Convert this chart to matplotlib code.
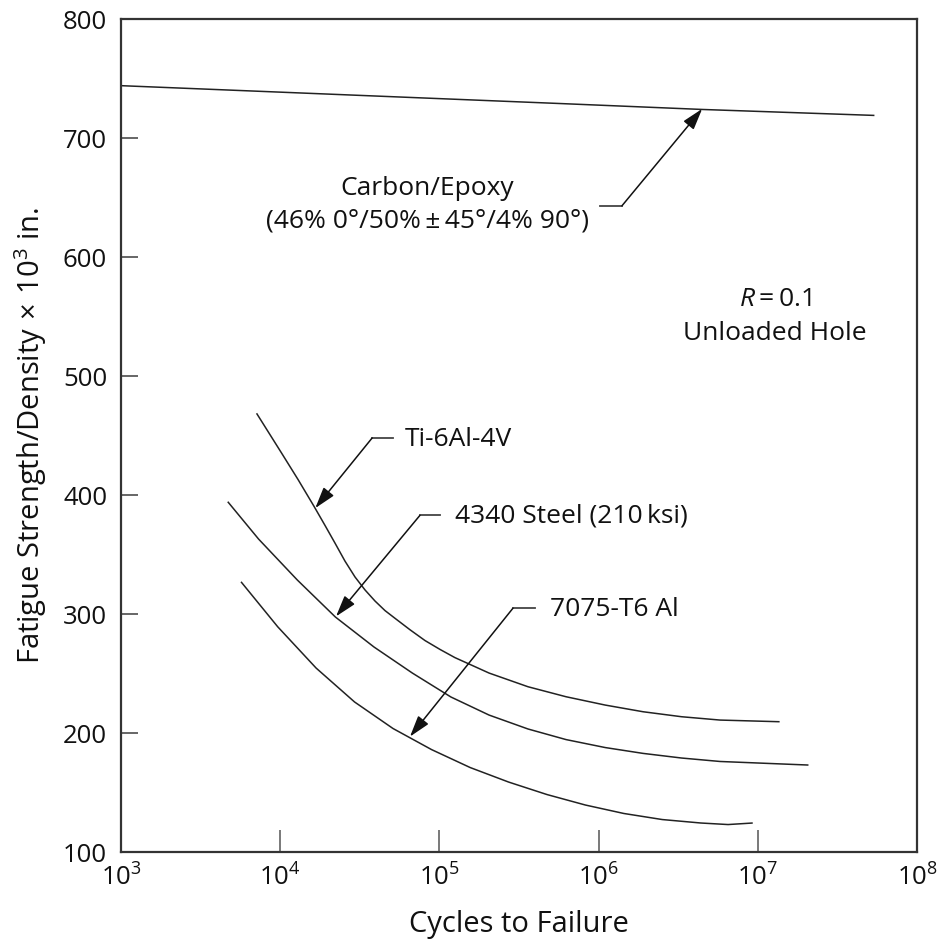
import matplotlib
matplotlib.use("Agg")
import matplotlib.pyplot as plt
from matplotlib.ticker import FixedLocator, NullLocator, FixedFormatter

plt.rcParams['font.family'] = ['Open Sans', 'DejaVu Sans']
plt.rcParams['font.weight'] = 500
plt.rcParams['mathtext.fontset'] = 'custom'
plt.rcParams['mathtext.rm'] = 'Open Sans:medium'
plt.rcParams['mathtext.it'] = 'Open Sans:italic:medium'

# ---- data ----
carbon_n = [1e3, 5.7e5, 4.5e6, 5.4e7]
carbon_s = [744, 729, 724, 719]

ti_n = [7100, 10190, 12940, 16300, 19100, 22100, 25500, 29500, 34100, 39400, 45500,
        52600, 65300, 81200, 101000, 125000, 205000, 360000, 624000, 1.10e6, 1.90e6,
        3.32e6, 5.79e6, 1.37e7]
ti_s = [468.7, 435.3, 413, 390.5, 374.5, 359.5, 344.5, 331.1, 320.2, 310.9, 302.9,
        296.4, 286.8, 277.7, 270.2, 263.4, 250.4, 238.9, 230.5, 223.5, 217.9,
        213.7, 210.9, 209.5]

steel_n = [4680, 7310, 12800, 22200, 38800, 67600, 118000, 205000, 360000,
           624000, 1.10e6, 1.90e6, 3.32e6, 5.79e6, 2.08e7]
steel_s = [394.4, 363, 328.6, 297.5, 272.3, 250.4, 230.3, 215.1, 203.4,
           194.5, 187.8, 182.9, 179, 176.1, 173.1]

al_n = [5670, 9640, 16800, 29300, 51100, 89200, 156000, 272000, 474000,
        826000, 1.44e6, 2.51e6, 4.38e6, 6.5e6, 9.29e6]
al_s = [327.1, 289.3, 254.6, 226.1, 203.8, 186.1, 171, 158.8, 148.3,
        139.5, 132.4, 127.3, 124.4, 123.1, 124.4]

x_ticks = [1e3, 1e4, 1e5, 1e6, 1e7, 1e8]
x_labels = ['$10^{3}$', '$10^{4}$', '$10^{5}$', '$10^{6}$', '$10^{7}$', '$10^{8}$']
y_ticks = [100, 200, 300, 400, 500, 600, 700, 800]

fig = plt.figure(figsize=(9.42, 9.42), dpi=100)
ax = fig.add_axes([0.1285, 0.0955, 0.845, 0.8843])

lc = '#222222'
for n, s in [(carbon_n, carbon_s), (ti_n, ti_s), (steel_n, steel_s), (al_n, al_s)]:
    ax.plot(n, s, color=lc, lw=1.1, solid_capstyle='butt', solid_joinstyle='round')

ax.set_xscale('log')
ax.set_xlim(1e3, 1e8)
ax.set_ylim(100, 800)
ax.xaxis.set_major_locator(FixedLocator(x_ticks))
ax.xaxis.set_major_formatter(FixedFormatter(x_labels))
ax.xaxis.set_minor_locator(NullLocator())
ax.yaxis.set_major_locator(FixedLocator(y_ticks))
ax.tick_params(axis='x', direction='in', length=16, width=1.1, color='#555555',
               labelsize=18.5, pad=9, top=False, labelcolor='#111111')
ax.tick_params(axis='y', direction='in', length=12, width=1.4, color='#666666',
               labelsize=18.5, pad=10, right=False, labelcolor='#111111')
for sp in ax.spines.values():
    sp.set_linewidth(1.6)
    sp.set_color('#333333')

ax.set_xlabel('Cycles to Failure', fontsize=21, labelpad=13, color='#111111')
ax.set_ylabel('Fatigue Strength/Density$\\,\\times\\,10^{3}$ in.', fontsize=21,
              labelpad=10, color='#111111')

fs = 19
arrow_kw = dict(arrowstyle='-|>,head_length=1.3,head_width=0.4', color='#111111', lw=1.1,
                shrinkA=0, shrinkB=0)

def callout(label, text_xy, stub_end, elbow, tip, ha='left'):
    ax.plot([stub_end[0], elbow[0]], [stub_end[1], elbow[1]], color='#444444', lw=1.3)
    ax.annotate('', xy=tip, xytext=elbow, arrowprops=arrow_kw)
    ax.text(text_xy[0], text_xy[1], label, fontsize=fs, ha=ha, va='center', color='#111111')

callout('Ti-6Al-4V', (60800, 447), (51200, 448), (37800, 448), (16600, 389))
callout('4340 Steel (210\u2009ksi)', (125000, 382), (101000, 383), (75500, 383), (22400, 298))
callout('7075-T6 Al', (495000, 304), (398000, 305), (290000, 305), (65300, 197))

# carbon/epoxy callout
ax.plot([1.02e6, 1.40e6], [643, 643], color='#444444', lw=1.3)
ax.annotate('', xy=(4.47e6, 724.5), xytext=(1.40e6, 643), arrowprops=arrow_kw)
ax.text(83600, 658, 'Carbon/Epoxy', fontsize=fs, ha='center', va='center', color='#111111')
ax.text(83600, 630, '(46% 0\u00b0/50%\u2009\u00b1\u200945\u00b0/4% 90\u00b0)', fontsize=fs,
        ha='center', va='center', color='#111111')

ax.text(1.28e7, 564, '$R = 0.1$', fontsize=fs, ha='center', va='center', color='#111111')
ax.text(1.28e7, 536, 'Unloaded Hole', fontsize=fs, ha='center', va='center', color='#111111')

fig.savefig('out.png', dpi=100, facecolor='white')
